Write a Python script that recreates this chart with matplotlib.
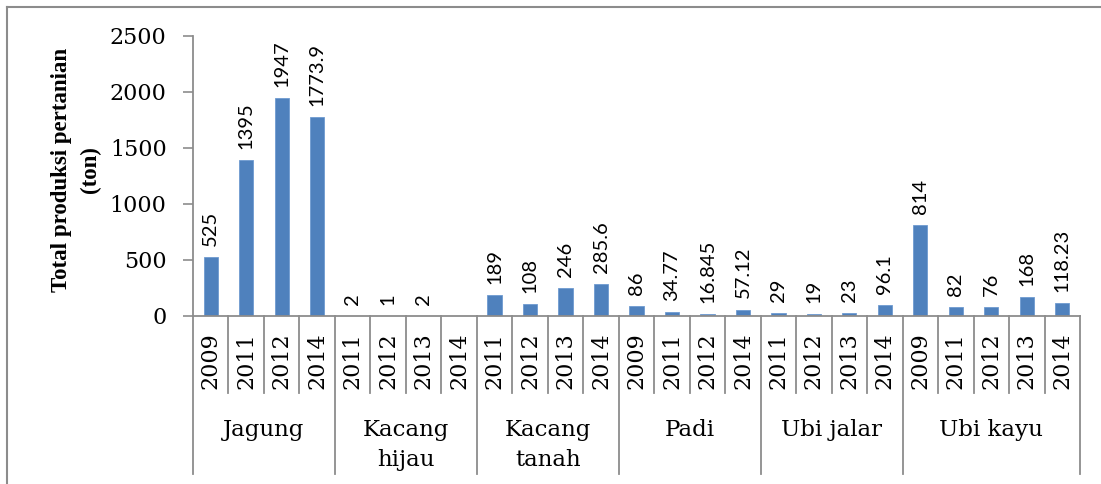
import matplotlib
matplotlib.use("Agg")
import matplotlib.pyplot as plt
import numpy as np
from matplotlib.lines import Line2D

# data
groups = ["Jagung", "Kacang\nhijau", "Kacang\ntanah", "Padi", "Ubi jalar", "Ubi kayu"]
years = [
    ["2009", "2011", "2012", "2014"],
    ["2011", "2012", "2013", "2014"],
    ["2011", "2012", "2013", "2014"],
    ["2009", "2011", "2012", "2014"],
    ["2011", "2012", "2013", "2014"],
    ["2009", "2011", "2012", "2013", "2014"],
]
values = [
    [525, 1395, 1947, 1773.9],
    [2, 1, 2, None],
    [189, 108, 246, 285.6],
    [86, 34.77, 16.845, 57.12],
    [29, 19, 23, 96.1],
    [814, 82, 76, 168, 118.23],
]

serif = "DejaVu Serif"
sans = "Lato"
blue = "#4F81BD"
grey = "#8C8C8C"

fig = plt.figure(figsize=(11.01, 4.84), dpi=100)
ax = fig.add_axes([193 / 1101, 1 - 316 / 484, (1080 - 193) / 1101, 280 / 484])

labels = [y for g in years for y in g]
vals = [v for g in values for v in g]
x = np.arange(len(labels))
heights = [np.nan if v is None else v for v in vals]

ax.bar(x, heights, width=0.4, color=blue, edgecolor="#6F9AD0", linewidth=0.6)

for xi, v in zip(x, vals):
    if v is None:
        continue
    ax.annotate(f"{v:g}", (xi, v), xytext=(0, 8), textcoords="offset points",
                rotation=90, ha="center", va="bottom", fontsize=14.5, family=sans)

ax.set_xlim(-0.5, len(labels) - 0.5)
ax.set_ylim(0, 2500)
ax.set_yticks([0, 500, 1000, 1500, 2000, 2500])
ax.set_xticks(x)
ax.set_xticklabels(labels, rotation=90, family=serif, fontsize=16)
ax.tick_params(axis="x", length=0, pad=12)
ax.tick_params(axis="y", length=7, width=1.2, color=grey, labelsize=16, pad=12)
for t in ax.get_yticklabels():
    t.set_family(serif)

for s in ["top", "right"]:
    ax.spines[s].set_visible(False)
for s in ["left", "bottom"]:
    ax.spines[s].set_color(grey)
    ax.spines[s].set_linewidth(1.3)

# separators under the axis
trans = ax.get_xaxis_transform()
short_y = -(393 - 316) / 280
long_y = -(474 - 316) / 280
bounds = np.cumsum([len(g) for g in years])
starts = [0] + list(bounds[:-1])
group_edges = set([b - 0.5 for b in bounds]) | {-0.5}
for i in range(len(labels) + 1):
    xb = i - 0.5
    yb = long_y if xb in group_edges else short_y
    ax.add_line(Line2D([xb, xb], [0, yb], transform=trans, color=grey,
                       linewidth=1.3, clip_on=False))

for g, s, e in zip(groups, starts, bounds):
    ax.text((s + e - 1) / 2, -(419 - 316) / 280, g, transform=trans,
            ha="center", va="top", family=serif, fontsize=16.5, linespacing=1.45)

fig.text(76 / 1101, 1 - 170 / 484, "Total produksi pertanian\n(ton)", rotation=90,
         ha="center", va="center", family="Liberation Serif", fontweight="bold",
         fontsize=16.5, linespacing=1.45)

# outer chart frame (top and left edges visible)
fig.add_artist(Line2D([7 / 1101, 1], [1 - 7 / 484, 1 - 7 / 484], transform=fig.transFigure,
                      color=grey, linewidth=1.5))
fig.add_artist(Line2D([7 / 1101, 7 / 1101], [0, 1 - 7 / 484], transform=fig.transFigure,
                      color=grey, linewidth=1.5))

fig.savefig("out.png", dpi=100)
